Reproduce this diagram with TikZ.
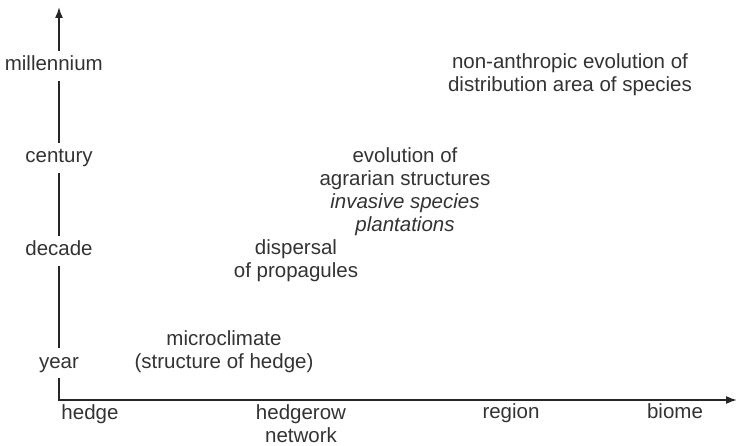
\documentclass[tikz,border=0pt]{standalone}
\usepackage{fontspec}
\setmainfont{Liberation Sans}
\usetikzlibrary{arrows.meta}
\tikzset{
  lbl/.style={font=\fontsize{20.5}{23}\selectfont, text=black!80, align=center, inner sep=0pt},
  axlbl/.style={lbl, text height=14pt, text depth=4pt, inner ysep=6pt},
  axis/.style={line width=1.7pt, draw=black!85},
  axarrow/.style={axis, -{Latex[length=11pt,width=8pt]}}
}
\begin{document}
\begin{tikzpicture}[x=1pt,y=-1pt]
\useasboundingbox (0,0) rectangle (736,446);
% vertical axis labels
\node[axlbl, anchor=east] (mil) at (103,66) {millennium};
\node[axlbl] (cen) at (59,158) {century};
\node[axlbl] (dec) at (59,251) {decade};
\node[axlbl] (yr) at (59,363) {year};
\coordinate (top) at (59,7);
\coordinate (corner) at (59,400);
\coordinate (xend) at (737,400);
\coordinate (milx) at (59,66);
% axis segments
\draw[axarrow] (milx |- mil.north) -- (top);
\draw[axis] (milx |- mil.south) -- (cen.north);
\draw[axis] (cen.south) -- (dec.north);
\draw[axis] (dec.south) -- (yr.north);
\draw[axarrow] (yr.south) -- (corner) -- (xend);
% horizontal axis labels
\node[lbl] (hedge) at (90,414) {hedge};
\node[lbl] (net) at (301,424) {hedgerow\\network};
\node[lbl] (region) at (511,413) {region};
\node[lbl] (biome) at (675,411) {biome};
% processes
\node[lbl] (micro) at (224,352) {microclimate\\(structure of hedge)};
\node[lbl] (disp) at (296,261) {dispersal\\of propagules};
\node[lbl] (agr) at (405,192) {evolution of\\agrarian structures\\\textit{invasive species}\\\textit{plantations}};
\node[lbl] (nonan) at (570,75) {non-anthropic evolution of\\distribution area of species};
\end{tikzpicture}
\end{document}
